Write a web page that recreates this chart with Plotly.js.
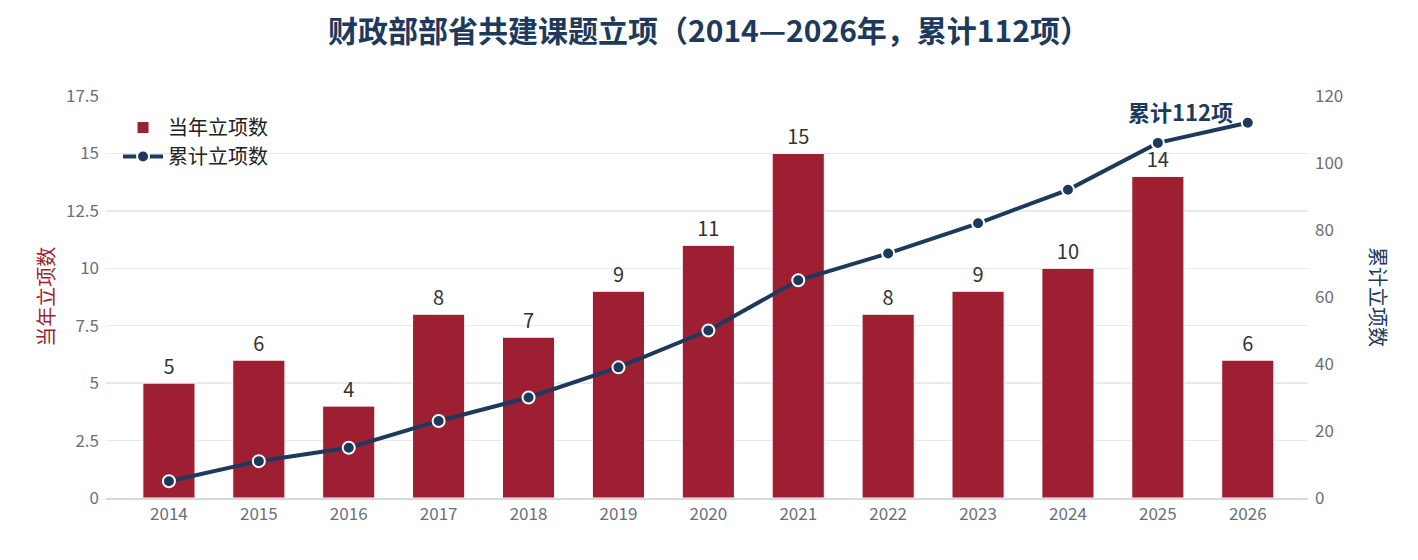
<!DOCTYPE html>
<html>
<head>
<meta charset="utf-8">
<script src="https://cdn.plot.ly/plotly-3.0.1.min.js"></script>
<style>
  html, body { margin: 0; padding: 0; background: #fff; }
  #chart { width: 1418px; height: 560px; }
</style>
</head>
<body>
<div id="chart"></div>
<script>
let years = ['2014', '2015', '2016', '2017', '2018', '2019', '2020', '2021', '2022', '2023', '2024', '2025', '2026'];
let yearly = [5, 6, 4, 8, 7, 9, 11, 15, 8, 9, 10, 14, 6];
let cumulative = [5, 11, 15, 23, 30, 39, 50, 65, 73, 82, 92, 106, 112];
let leftTicks = [0, 2.5, 5, 7.5, 10, 12.5, 15, 17.5];
let rightTicks = [0, 20, 40, 60, 80, 100, 120];

let red = '#9e1f32';
let navy = '#1d3a5c';
let font = '"Noto Sans CJK SC", "Noto Sans", sans-serif';

let bars = {
  type: 'bar',
  name: '当年立项数',
  x: years,
  y: yearly,
  width: 0.58,
  marker: { color: red, line: { color: '#ffffff', width: 1 } },
  text: yearly.map(String),
  textposition: 'outside',
  cliponaxis: false,
  textfont: { size: 20, color: '#333333', family: font },
  hoverinfo: 'skip'
};

let line = {
  type: 'scatter',
  mode: 'lines+markers',
  name: '累计立项数',
  x: years,
  y: cumulative,
  yaxis: 'y2',
  line: { color: navy, width: 4 },
  marker: { color: navy, size: 12, line: { color: '#ffffff', width: 2 } },
  cliponaxis: false,
  hoverinfo: 'skip'
};

let last = years.length - 1;

let layout = {
  width: 1418,
  height: 560,
  paper_bgcolor: '#ffffff',
  plot_bgcolor: '#ffffff',
  font: { family: font, color: '#333333' },
  margin: { l: 106, r: 110, t: 96, b: 62 },
  title: {
    text: '<b>财政部部省共建课题立项（2014—2026年，累计112项）</b>',
    font: { size: 30, color: navy, family: font },
    x: 0.5,
    xanchor: 'center',
    y: 0.943,
    yanchor: 'middle'
  },
  showlegend: true,
  legend: {
    x: 0.01,
    y: 0.97,
    xanchor: 'left',
    yanchor: 'top',
    bgcolor: 'rgba(255,255,255,0)',
    font: { size: 20, color: '#222222', family: font },
    tracegroupgap: 0,
    itemwidth: 40
  },
  xaxis: {
    type: 'category',
    range: [-0.7, 12.67],
    showgrid: false,
    showline: true,
    linecolor: '#d5d8dd',
    linewidth: 2,
    ticks: '',
    tickfont: { size: 17, color: '#6b6f78', family: font },
    fixedrange: true
  },
  yaxis: {
    range: [0, 17.5],
    tickvals: leftTicks,
    ticktext: leftTicks.map(String),
    showgrid: true,
    gridcolor: '#e8e9ec',
    gridwidth: 1.5,
    zeroline: false,
    showline: false,
    ticks: '',
    ticklabelstandoff: 6,
    tickfont: { size: 17, color: '#6b6f78', family: font }
  },
  yaxis2: {
    overlaying: 'y',
    side: 'right',
    range: [0, 120],
    tickvals: rightTicks,
    showgrid: false,
    zeroline: false,
    showline: false,
    ticks: '',
    ticklabelstandoff: 6,
    tickfont: { size: 17, color: '#6b6f78', family: font }
  },
  annotations: [
    {
      xref: 'paper', yref: 'paper',
      x: -0.051, y: 0.5,
      xanchor: 'center', yanchor: 'middle',
      textangle: -90,
      showarrow: false,
      text: '当年立项数',
      font: { size: 20, color: red, family: font }
    },
    {
      xref: 'paper', yref: 'paper',
      x: 1.059, y: 0.5,
      xanchor: 'center', yanchor: 'middle',
      textangle: 90,
      showarrow: false,
      text: '累计立项数',
      font: { size: 20, color: navy, family: font }
    },
    {
      xref: 'x', yref: 'y2',
      x: last,
      y: cumulative[last],
      xanchor: 'center', yanchor: 'middle',
      xshift: -67, yshift: 12,
      showarrow: false,
      text: '<b>累计' + cumulative[last] + '项</b>',
      font: { size: 22, color: navy, family: font }
    }
  ]
};

let opts = {
  displayModeBar: false,
  displaylogo: false,
  staticPlot: true
};

Plotly.newPlot('chart', [bars, line], layout, opts);
</script>
</body>
</html>
